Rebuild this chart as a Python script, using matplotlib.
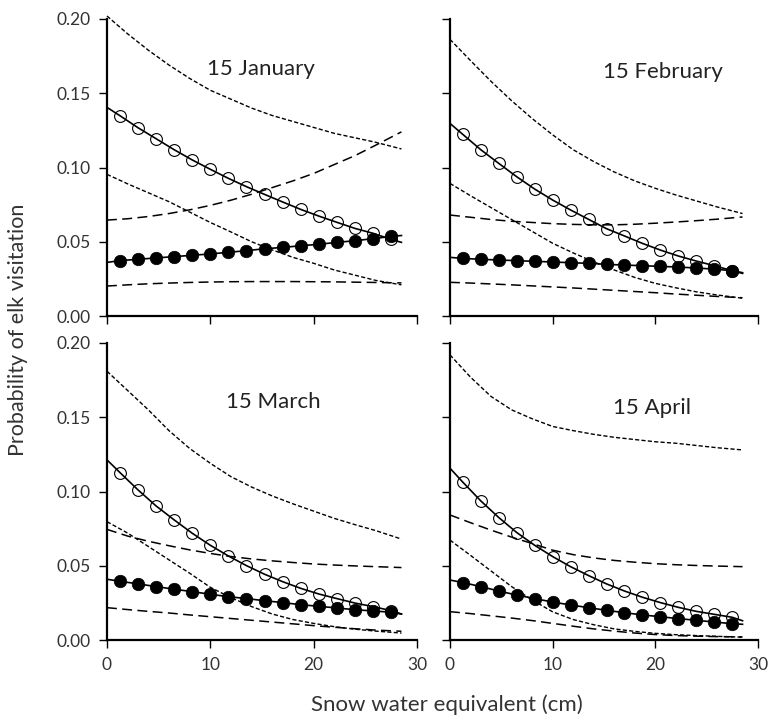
import matplotlib
matplotlib.use('Agg')
import matplotlib.pyplot as plt

plt.rcParams['font.family'] = ['Lato', 'DejaVu Sans']

# snow water equivalent (cm) where the markers sit
swe_pts = [1.25, 3.0, 4.75, 6.5, 8.25, 10.0, 11.75, 13.5, 15.25, 17.0, 18.75, 20.5, 22.25, 24.0, 25.75, 27.5]
# ends of the fitted lines
swe_ends = [0, 28.5]
# x values used for the confidence bands
swe_band = [0, 2, 4, 6, 8, 10, 12, 14, 16, 18, 20, 22, 24, 26, 28.5]

dates = ['15 January', '15 February', '15 March', '15 April']

# open circles (with short dash bands)
open_pts = [
    [0.1349, 0.1268, 0.1194, 0.1120, 0.1051, 0.0988, 0.0927, 0.0871, 0.0819, 0.0768, 0.0718, 0.0673, 0.0631, 0.0590, 0.0557, 0.0516],
    [0.1223, 0.1120, 0.1028, 0.0938, 0.0855, 0.0781, 0.0714, 0.0651, 0.0588, 0.0539, 0.0489, 0.0444, 0.0404, 0.0370, 0.0339, 0.0305],
    [0.1128, 0.1011, 0.0903, 0.0809, 0.0719, 0.0638, 0.0566, 0.0501, 0.0443, 0.0393, 0.0348, 0.0310, 0.0279, 0.0249, 0.0225, 0.0198],
    [0.1063, 0.0937, 0.0825, 0.0724, 0.0638, 0.0562, 0.0494, 0.0434, 0.0378, 0.0330, 0.0288, 0.0252, 0.0220, 0.0193, 0.0173, 0.0153],
]
open_ends = [[0.1405, 0.0496], [0.1297, 0.0287], [0.1213, 0.0175], [0.1157, 0.0130]]
open_upper = [
    [0.202, 0.190, 0.179, 0.169, 0.160, 0.152, 0.146, 0.140, 0.135, 0.131, 0.127, 0.123, 0.120, 0.117, 0.1125],
    [0.1863, 0.172, 0.158, 0.145, 0.133, 0.122, 0.112, 0.104, 0.097, 0.091, 0.086, 0.0815, 0.0775, 0.0735, 0.069],
    [0.181, 0.168, 0.155, 0.141, 0.129, 0.119, 0.110, 0.103, 0.097, 0.0917, 0.0868, 0.0819, 0.0777, 0.0737, 0.068],
    [0.192, 0.177, 0.164, 0.155, 0.149, 0.1438, 0.141, 0.1385, 0.1365, 0.135, 0.1335, 0.1325, 0.131, 0.1295, 0.128],
]
open_lower = [
    [0.0954, 0.089, 0.083, 0.077, 0.070, 0.063, 0.0566, 0.050, 0.0445, 0.0395, 0.0355, 0.031, 0.0275, 0.024, 0.021],
    [0.0893, 0.081, 0.073, 0.065, 0.057, 0.049, 0.0425, 0.0365, 0.031, 0.026, 0.022, 0.019, 0.0163, 0.0142, 0.012],
    [0.0797, 0.072, 0.063, 0.054, 0.045, 0.0355, 0.0285, 0.0225, 0.0175, 0.0138, 0.0112, 0.009, 0.0073, 0.006, 0.0047],
    [0.0673, 0.057, 0.0465, 0.036, 0.027, 0.019, 0.0138, 0.0103, 0.0075, 0.0058, 0.0045, 0.0036, 0.003, 0.0025, 0.0019],
]

# filled circles (with long dash bands)
filled_pts = [
    [0.0373, 0.0382, 0.0391, 0.0400, 0.0409, 0.0418, 0.0429, 0.0440, 0.0453, 0.0462, 0.0473, 0.0483, 0.0496, 0.0507, 0.0521, 0.0536],
    [0.0388, 0.0382, 0.0377, 0.0373, 0.0368, 0.0364, 0.0359, 0.0355, 0.0348, 0.0343, 0.0339, 0.0334, 0.0330, 0.0323, 0.0316, 0.0305],
    [0.0396, 0.0378, 0.0360, 0.0342, 0.0326, 0.0308, 0.0292, 0.0279, 0.0265, 0.0252, 0.0238, 0.0227, 0.0216, 0.0204, 0.0196, 0.0187],
    [0.0387, 0.0360, 0.0330, 0.0303, 0.0279, 0.0256, 0.0236, 0.0218, 0.0200, 0.0184, 0.0169, 0.0157, 0.0144, 0.0133, 0.0121, 0.0110],
]
filled_ends = [[0.0361, 0.0542], [0.0395, 0.0292], [0.0409, 0.0175], [0.0404, 0.0106]]
filled_upper = [
    [0.0646, 0.0655, 0.067, 0.069, 0.0715, 0.0745, 0.078, 0.082, 0.0865, 0.091, 0.096, 0.102, 0.108, 0.115, 0.124],
    [0.068, 0.0665, 0.065, 0.0638, 0.063, 0.0622, 0.0617, 0.0614, 0.0614, 0.0618, 0.0625, 0.0633, 0.0642, 0.0652, 0.0667],
    [0.0745, 0.070, 0.0665, 0.0635, 0.0607, 0.0583, 0.0562, 0.0546, 0.0533, 0.0522, 0.0512, 0.0505, 0.0499, 0.0494, 0.0488],
    [0.0842, 0.0790, 0.0740, 0.0693, 0.0650, 0.0605, 0.0575, 0.0553, 0.0536, 0.0524, 0.0514, 0.0507, 0.0502, 0.0498, 0.0494],
]
filled_lower = [
    [0.0202, 0.021, 0.0217, 0.0222, 0.0226, 0.0229, 0.0231, 0.0232, 0.0232, 0.0232, 0.0231, 0.023, 0.0228, 0.0226, 0.0223],
    [0.0227, 0.0222, 0.0216, 0.021, 0.0203, 0.0196, 0.0189, 0.0181, 0.0173, 0.0165, 0.0157, 0.0148, 0.014, 0.0132, 0.0123],
    [0.0218, 0.0205, 0.0193, 0.0182, 0.0169, 0.0157, 0.0145, 0.0133, 0.0121, 0.0109, 0.0097, 0.0086, 0.0076, 0.0067, 0.0059],
    [0.0191, 0.0178, 0.0163, 0.0148, 0.0131, 0.0112, 0.0093, 0.0075, 0.006, 0.0047, 0.0037, 0.003, 0.0026, 0.0023, 0.0021],
]

# where the date label goes in each panel (data coords)
label_pos = [(14.9, 0.166), (20.7, 0.164), (16.1, 0.160), (19.7, 0.156)]

txt_col = '#333333'

fig = plt.figure(figsize=(7.68, 7.25), dpi=100)
# axes boxes in figure fractions
boxes = [
    [0.1393, 0.5641, 0.4036, 0.4097],
    [0.5859, 0.5641, 0.4010, 0.4097],
    [0.1393, 0.1172, 0.4036, 0.4097],
    [0.5859, 0.1172, 0.4010, 0.4097],
]

short_dash = (0, (3.0, 1.6))
long_dash = (0, (6.5, 3.5))

for i in range(4):
    ax = fig.add_axes(boxes[i])

    # confidence bands
    ax.plot(swe_band, open_upper[i], color='black', lw=1.0, linestyle=short_dash, clip_on=False)
    ax.plot(swe_band, open_lower[i], color='black', lw=1.0, linestyle=short_dash, clip_on=False)
    ax.plot(swe_band, filled_upper[i], color='black', lw=1.1, linestyle=long_dash, clip_on=False)
    ax.plot(swe_band, filled_lower[i], color='black', lw=1.1, linestyle=long_dash, clip_on=False)

    # fitted lines through the markers
    ox = [swe_ends[0]] + swe_pts + [swe_ends[1]]
    oy = [open_ends[i][0]] + open_pts[i] + [open_ends[i][1]]
    ax.plot(ox, oy, color='black', lw=1.2)
    fy = [filled_ends[i][0]] + filled_pts[i] + [filled_ends[i][1]]
    ax.plot(ox, fy, color='black', lw=1.2)

    ax.plot(swe_pts, open_pts[i], linestyle='none', marker='o', ms=8.5,
            markerfacecolor='none', markeredgecolor='black', markeredgewidth=0.8)
    ax.plot(swe_pts, filled_pts[i], linestyle='none', marker='o', ms=9,
            markerfacecolor='black', markeredgecolor='black', markeredgewidth=0.5)

    ax.text(label_pos[i][0], label_pos[i][1], dates[i], ha='center', va='center',
            fontsize=16, color='#222222')

    ax.set_xlim(0, 30)
    ax.set_ylim(0, 0.20)
    ax.set_xticks([0, 10, 20, 30])
    ax.set_yticks([0, 0.05, 0.10, 0.15, 0.20])
    ax.spines['top'].set_visible(False)
    ax.spines['right'].set_visible(False)
    ax.spines['left'].set_linewidth(1.6)
    ax.spines['bottom'].set_linewidth(1.6)
    ax.tick_params(direction='out', length=6, width=1.0, labelsize=12.5, colors='black',
                   labelcolor=txt_col, pad=6)

    if i % 2 == 0:
        ax.set_yticklabels(['0.00', '0.05', '0.10', '0.15', '0.20'])
    else:
        ax.set_yticklabels([])
    if i < 2:
        ax.set_xticklabels([])

fig.text(0.024, 0.545, 'Probability of elk visitation', rotation=90, ha='center', va='center',
         fontsize=15.5, color=txt_col)
fig.text(0.582, 0.028, 'Snow water equivalent (cm)', ha='center', va='center',
         fontsize=16, color=txt_col)

fig.savefig('out.png', dpi=100)
